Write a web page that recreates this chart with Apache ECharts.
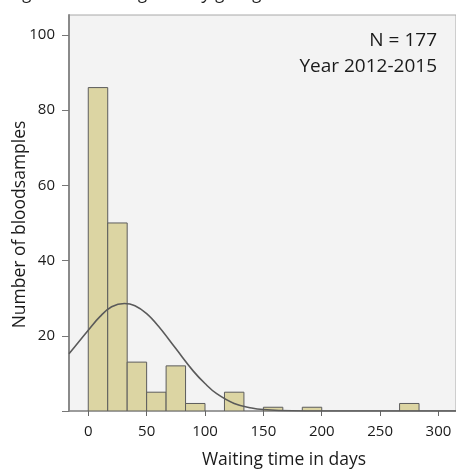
<!DOCTYPE html>
<html>
<head>
<meta charset="utf-8">
<script src="https://cdn.jsdelivr.net/npm/echarts@6/dist/echarts.min.js"></script>
<style>
  html, body { margin: 0; padding: 0; background: #ffffff; }
  #chart { width: 456px; height: 470px; }
</style>
</head>
<body>
<div id="chart"></div>
<script>
// ---- data ----
var binStarts = [0, 16.67, 33.33, 50, 66.67, 83.33, 100, 116.67, 133.33, 150, 166.67, 183.33, 200, 216.67, 233.33, 250, 266.67];
var binWidth = 16.67;
var counts = [86, 50, 13, 5, 12, 2, 0, 5, 0, 1, 0, 1, 0, 0, 0, 0, 2];
var curveX = [-16.5, 0, 10, 20, 31, 40, 50, 60, 75, 90, 100, 110, 125, 140, 150, 175, 200, 315];
var curveY = [15.2, 21.5, 25.1, 27.7, 28.6, 28.0, 25.9, 22.6, 16.6, 10.6, 7.3, 4.6, 2.0, 0.8, 0.4, 0.05, 0, 0];
var xTicks = [0, 50, 100, 150, 200, 250, 300];
var yTicks = [0, 20, 40, 60, 80, 100];
var yTickLabels = [20, 40, 60, 80, 100];
var titleText = 'Figure 11 Waiting time by giving back test result';
var xName = 'Waiting time in days';
var yName = 'Number of bloodsamples';
var noteLines = ['N = 177', 'Year 2012-2015'];

var FONT = '"Open Sans", sans-serif';
var chart = echarts.init(document.getElementById('chart'), null, { renderer: 'canvas' });

var histData = binStarts.map(function (s, i) { return [s, counts[i]]; });
var curveData = curveX.map(function (x, i) { return [x, curveY[i]]; });

var option = {
  backgroundColor: '#ffffff',
  animation: false,
  grid: {
    left: 69, top: 15, right: 0, bottom: 59,
    show: true, backgroundColor: '#f3f3f3', borderColor: '#a8a8a8', borderWidth: 1
  },
  xAxis: {
    type: 'value', min: -16.5, max: 315,
    axisLine: { show: true, onZero: false, lineStyle: { color: '#8a8a8a', width: 1.5 } },
    axisTick: { show: true, customValues: xTicks, length: 5, lineStyle: { color: '#666' } },
    axisLabel: { customValues: xTicks, margin: 13, color: '#1a1a1a', fontSize: 15, fontFamily: FONT,
      formatter: function (v) { return String(v); } },
    splitLine: { show: false }
  },
  yAxis: {
    type: 'value', min: 0, max: 105.3,
    axisLine: { show: true, onZero: false, lineStyle: { color: '#8a8a8a', width: 2 } },
    axisTick: { show: true, customValues: yTicks, length: 7, lineStyle: { color: '#777' } },
    axisLabel: { customValues: yTickLabels, margin: 14, color: '#1a1a1a', fontSize: 15, fontFamily: FONT },
    splitLine: { show: false }
  },
  series: [
    {
      type: 'custom',
      data: histData,
      clip: true,
      renderItem: function (params, api) {
        var s = api.value(0), c = api.value(1);
        if (!c) return null;
        var p0 = api.coord([s, c]);
        var p1 = api.coord([s + binWidth, 0]);
        return {
          type: 'rect',
          shape: { x: p0[0], y: p0[1], width: p1[0] - p0[0], height: p1[1] - p0[1] },
          style: { fill: '#dcd5a3', stroke: '#5c5c5c', lineWidth: 1 }
        };
      },
      z: 2
    },
    {
      type: 'line',
      data: curveData,
      smooth: 0.4,
      showSymbol: false,
      clip: true,
      lineStyle: { color: '#5a5a5a', width: 1.6 },
      z: 3
    }
  ],
  graphic: [
    { type: 'text', left: 10, top: -15,
      style: { text: titleText, fontFamily: FONT, fontStyle: 'italic', fontSize: 18, fill: '#222' } },
    { type: 'text', x: 437, y: 41,
      style: { text: noteLines[0], fontFamily: FONT, fontSize: 19, fill: '#1a1a1a', align: 'right', verticalAlign: 'middle' }, z: 10 },
    { type: 'text', x: 437, y: 67,
      style: { text: noteLines[1], fontFamily: FONT, fontSize: 19, fill: '#1a1a1a', align: 'right', verticalAlign: 'middle' }, z: 10 },
    { type: 'text', x: 284, y: 460,
      style: { text: xName, fontFamily: FONT, fontSize: 17.5, fill: '#1a1a1a', align: 'center', verticalAlign: 'middle' } },
    { type: 'text', x: 20, y: 224.5, rotation: Math.PI / 2,
      style: { text: yName, fontFamily: FONT, fontSize: 17.5, fill: '#1a1a1a', align: 'center', verticalAlign: 'middle' } }
  ]
};
chart.setOption(option);
</script>
</body>
</html>
